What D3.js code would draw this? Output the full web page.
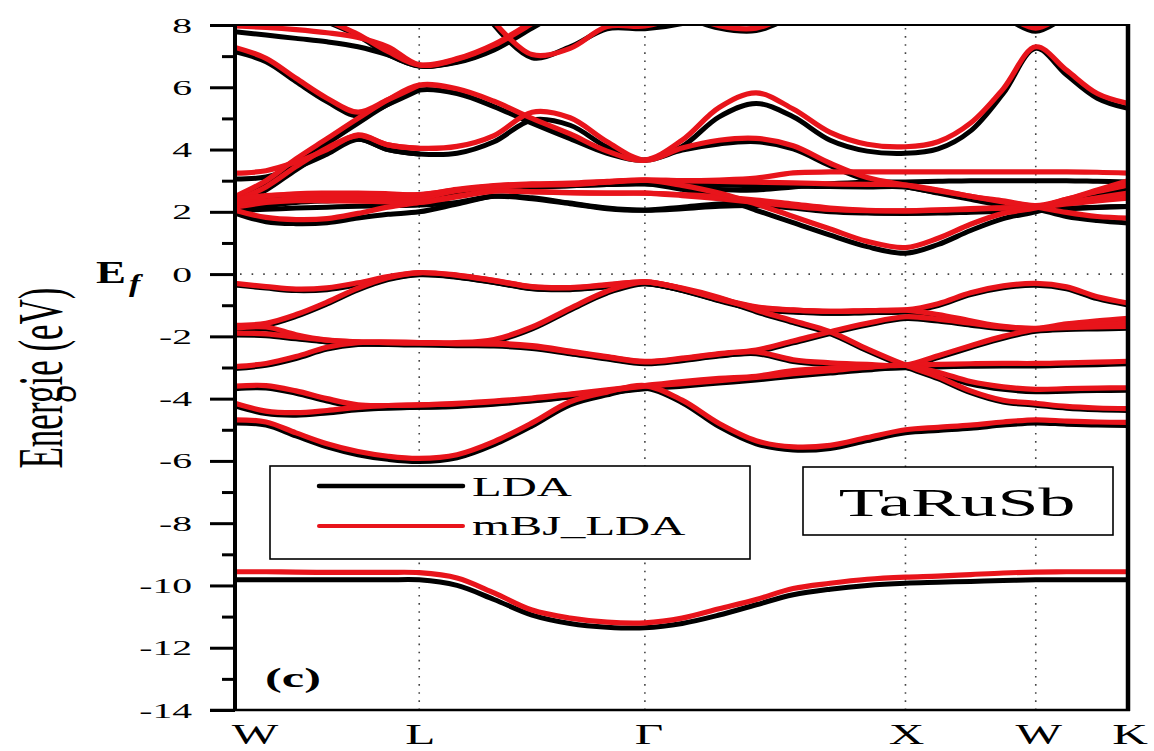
<!DOCTYPE html>
<html><head><meta charset="utf-8">
<script src="https://cdn.jsdelivr.net/npm/d3@7"></script>
<style>
body{margin:0;background:#fff}
svg{display:block}
text{font-family:"Liberation Serif","Times New Roman",serif;fill:#000}
</style>
</head><body>
<svg id="c" width="1154" height="751" font-family="Liberation Serif"></svg>
<script>
const _ = null;
// k-path (units of 2π/a) and sampled k grid
const kGrid = [0,0.119,0.234,0.353,0.472,0.587,0.707, 0.852,0.994,1.140,1.286,1.428,1.573,
  1.716,1.858,2.000,2.142,2.284,2.426,2.573, 2.698,2.823,2.948,3.073, 3.191,3.309,3.427];
const kTicks = [0, 0.707, 1.573, 2.573, 3.073, 3.427];
const kLabels = ["W","L","Γ","X","W","K"];
const yMajor = [8,6,4,2,0,-2,-4,-6,-8,-10,-12,-14];
const yMinor = [7,5,3,1,-1,-3,-5,-7,-9,-11,-13];
const yLabels = ["8","6","4","2","0","-2","-4","-6","-8","-10","-12","-14"];
const seriesNames = ["LDA","mBJ_LDA"];

// ---- mBJ_LDA (red) ----
const mbjDeep = [
 [-9.56,-9.56,-9.57,-9.58,-9.58,-9.58,-9.59, -9.76,-10.24,-10.79,-11.05,-11.18,-11.2, -11.05,-10.75,-10.45,-10.1,-9.93,-9.8,-9.73, -9.7,-9.65,-9.6,-9.57, -9.56,-9.56,-9.56]
];
const mbjValence = [
 [-0.30,-0.40,-0.48,-0.44,-0.28,-0.08,0.05, -0.03,-0.20,-0.40,-0.43,-0.34,-0.25, -0.46,-0.78,-1.05,-1.15,-1.20,-1.17,-1.15, -0.95,-0.60,-0.38,-0.30, -0.41,-0.73,-0.93],
 [-1.65,-1.58,-1.30,-0.90,-0.45,-0.12,0.04, -0.04,-0.21,-0.41,-0.44,-0.35,-0.25, -0.45,-0.75,-1.15,-1.50,-1.85,-2.40,-2.92, -3.30,-3.75,-4.05,-4.15, -4.25,-4.30,-4.32],
 [-1.74,-1.70,-1.95,-2.12,-2.18,-2.20,-2.20, -2.20,-2.10,-1.70,-1.10,-0.55,-0.25, -0.47,-0.80,-1.07,-1.16,-1.20,-1.18,-1.16, -1.30,-1.50,-1.68,-1.74, -1.60,-1.50,-1.42],
 [-1.90,-1.92,-2.02,-2.12,-2.18,-2.20,-2.22, -2.22,-2.22,-2.30,-2.47,-2.65,-2.80, -2.70,-2.55,-2.44,-2.15,-1.85,-1.58,-1.37, -1.45,-1.58,-1.70,-1.75, -1.68,-1.62,-1.58],
 [-2.97,-2.87,-2.65,-2.35,-2.20,-2.18,-2.20, -2.24,-2.25,-2.33,-2.50,-2.67,-2.82, -2.72,-2.57,-2.50,-2.75,-2.85,-2.90,-2.92, -2.62,-2.30,-2.00,-1.78, -1.72,-1.70,-1.68],
 [-3.60,-3.58,-3.75,-4.00,-4.20,-4.22,-4.20, -4.15,-4.08,-3.98,-3.85,-3.72,-3.58, -3.45,-3.35,-3.28,-3.10,-3.02,-2.97,-2.92, -2.90,-2.88,-2.87,-2.87, -2.85,-2.83,-2.80],
 [-4.15,-4.40,-4.45,-4.38,-4.28,-4.22,-4.20, -4.17,-4.10,-4.00,-3.87,-3.74,-3.60, -3.52,-3.42,-3.32,-3.20,-3.10,-3.00,-2.93, -3.15,-3.45,-3.62,-3.70, -3.68,-3.66,-3.65],
 [-4.68,-4.75,-5.10,-5.45,-5.70,-5.85,-5.92, -5.80,-5.38,-4.78,-4.10,-3.79,-3.58, -4.05,-4.80,-5.35,-5.55,-5.50,-5.25,-5.00, -4.92,-4.85,-4.75,-4.68, -4.72,-4.75,-4.76]
];
const mbjConduction = [
 [7.97,7.92,7.85,7.75,7.60,7.30,6.72, 6.90,7.35,8.05,8.80,_,_, _,_,_,_,_,_,_, _,_,_,_, _,_,_],
 [_,_,8.60,8.15,7.70,7.15,6.72, 6.92,7.38,8.10,8.85,_,_, _,_,_,_,_,_,_, _,_,_,_, _,_,_],
 [7.28,6.93,6.29,5.65,5.20,5.60,6.07, _,_,_,_,_,_, _,_,_,_,_,_,_, _,_,_,_, _,_,_],
 [2.49,3.00,3.70,4.35,5.00,5.60,6.07, 5.95,5.55,5.00,4.50,3.95,3.66, 4.30,5.35,5.82,5.30,4.55,4.17,4.09, 4.25,4.85,5.95,7.30, 6.55,5.80,5.48],
 [2.35,2.80,3.45,4.05,4.45,4.15,4.04, _,_,_,_,_,_, _,_,_,_,_,_,_, _,_,_,_, _,_,_],
 [3.24,3.32,3.60,4.00,4.47,4.15,4.04, 4.10,4.45,5.20,5.02,4.25,3.66, 4.05,4.30,4.36,4.12,3.56,3.10,2.86, 2.68,2.50,2.32,2.16, 1.98,1.85,1.80],
 [_,_,_,_,_,_,_, _,8.10,7.05,7.25,7.95,7.97, 8.30,_,_,_,_,_,_, _,_,_,_, _,_,_],
 [_,_,_,_,_,_,_, _,_,_,_,_,_, 8.40,7.98,7.90,8.40,_,_,_, _,_,8.40,7.90, 8.40,_,_],
 [2.05,1.82,1.75,1.78,1.95,2.15,2.30, 2.50,2.68,2.65,2.62,2.60,2.60, 2.52,2.42,2.30,2.18,2.08,2.04,2.03, 2.06,2.10,2.13,2.16, 2.30,2.45,2.60],
 [2.15,2.30,2.36,2.35,2.34,2.32,2.30, 2.48,2.66,2.64,2.61,2.60,2.60, 2.55,2.48,2.38,2.25,2.12,2.05,2.03, 2.05,2.08,2.12,2.15, 2.25,2.35,2.44],
 [2.20,2.35,2.42,2.45,2.45,2.45,2.45, 2.68,2.82,2.86,2.88,2.95,3.02, 3.00,3.02,3.08,3.25,3.28,3.28,3.28, 3.28,3.28,3.28,3.28, 3.28,3.27,3.24],
 [2.30,2.50,2.58,2.60,2.60,2.58,2.55, 2.72,2.84,2.90,2.92,2.98,3.02, 3.00,2.98,2.95,2.93,2.90,2.88,2.86, 2.70,2.50,2.35,2.20, 2.40,2.65,2.86],
 [2.40,2.52,2.56,2.58,2.58,2.56,2.55, 2.70,2.83,2.88,2.90,2.96,3.02, 2.85,2.60,2.25,1.85,1.45,1.05,0.85, 1.15,1.60,1.95,2.12, 2.40,2.70,3.00]
];

// ---- LDA (black) ----
const ldaDeep = [
 [-9.82,-9.82,-9.82,-9.82,-9.82,-9.82,-9.82, -10.0,-10.45,-10.95,-11.22,-11.34,-11.36, -11.22,-10.95,-10.62,-10.3,-10.12,-10.0,-9.93, -9.9,-9.87,-9.84,-9.82, -9.82,-9.82,-9.82]
];
const ldaValence = [
 [-0.35,-0.45,-0.53,-0.50,-0.34,-0.14,-0.01, -0.09,-0.26,-0.46,-0.49,-0.40,-0.30, -0.52,-0.84,-1.11,-1.21,-1.26,-1.23,-1.21, -1.01,-0.66,-0.44,-0.36, -0.47,-0.79,-0.99],
 [-1.71,-1.64,-1.36,-0.96,-0.51,-0.18,-0.02, -0.10,-0.27,-0.47,-0.50,-0.41,-0.31, -0.51,-0.81,-1.21,-1.56,-1.91,-2.46,-2.98, -3.36,-3.81,-4.11,-4.21, -4.31,-4.36,-4.38],
 [-1.80,-1.76,-2.01,-2.18,-2.24,-2.26,-2.26, -2.26,-2.16,-1.76,-1.16,-0.61,-0.31, -0.53,-0.86,-1.13,-1.22,-1.26,-1.24,-1.22, -1.36,-1.56,-1.74,-1.80, -1.66,-1.56,-1.48],
 [-1.96,-1.98,-2.08,-2.18,-2.24,-2.26,-2.28, -2.28,-2.28,-2.36,-2.53,-2.71,-2.86, -2.76,-2.61,-2.50,-2.21,-1.91,-1.64,-1.43, -1.51,-1.64,-1.76,-1.81, -1.74,-1.68,-1.64],
 [-3.03,-2.93,-2.71,-2.41,-2.26,-2.24,-2.26, -2.30,-2.31,-2.39,-2.56,-2.73,-2.88, -2.78,-2.63,-2.56,-2.81,-2.91,-2.96,-2.98, -2.68,-2.36,-2.06,-1.84, -1.78,-1.76,-1.74],
 [-3.68,-3.66,-3.83,-4.08,-4.28,-4.30,-4.28, -4.23,-4.16,-4.06,-3.93,-3.80,-3.66, -3.53,-3.43,-3.36,-3.18,-3.10,-3.05,-3.00, -2.98,-2.96,-2.95,-2.95, -2.93,-2.91,-2.88],
 [-4.23,-4.48,-4.53,-4.46,-4.36,-4.30,-4.28, -4.25,-4.18,-4.08,-3.95,-3.82,-3.68, -3.60,-3.50,-3.40,-3.28,-3.18,-3.08,-3.01, -3.23,-3.53,-3.70,-3.78, -3.76,-3.74,-3.73],
 [-4.78,-4.85,-5.20,-5.55,-5.80,-5.95,-6.02, -5.90,-5.48,-4.88,-4.20,-3.88,-3.66, -4.13,-4.90,-5.45,-5.65,-5.60,-5.35,-5.10, -5.02,-4.95,-4.85,-4.78, -4.82,-4.85,-4.86]
];
const ldaConduction = [
 [7.78,7.68,7.57,7.46,7.30,7.04,6.68, 6.80,7.20,7.90,8.60,_,_, _,_,_,_,_,_,_, _,_,_,_, _,_,_],
 [_,_,8.50,8.10,7.65,7.05,6.68, 6.82,7.22,7.95,8.65,_,_, _,_,_,_,_,_,_, _,_,_,_, _,_,_],
 [7.14,6.82,6.18,5.54,5.08,5.45,5.91, _,_,_,_,_,_, _,_,_,_,_,_,_, _,_,_,_, _,_,_],
 [2.38,2.88,3.55,4.20,4.85,5.45,5.91, 5.80,5.38,4.85,4.35,3.88,3.66, 4.10,5.05,5.48,5.05,4.30,3.95,3.88, 4.02,4.60,5.80,7.25, 6.40,5.65,5.32],
 [2.25,2.70,3.35,3.95,4.33,4.00,3.86, _,_,_,_,_,_, _,_,_,_,_,_,_, _,_,_,_, _,_,_],
 [3.05,3.12,3.42,3.85,4.33,4.00,3.86, 3.88,4.25,4.95,4.78,4.08,3.66, 3.98,4.18,4.25,4.02,3.48,3.02,2.80, 2.62,2.45,2.28,2.10, 1.85,1.72,1.64],
 [_,_,_,_,_,_,_, _,8.00,6.95,7.30,7.88,7.88, 8.05,8.40,_,_,_,_,_, _,_,_,_, _,_,_],
 [_,_,_,_,_,_,_, _,_,_,_,_,_, 8.30,7.90,7.82,8.30,_,_,_, _,_,8.30,7.80, 8.30,_,_],
 [1.96,1.68,1.62,1.65,1.80,1.92,2.00, 2.25,2.50,2.45,2.28,2.12,2.05, 2.10,2.18,2.20,2.12,2.00,1.96,1.95, 1.96,1.99,2.02,2.05, 2.10,2.14,2.17],
 [2.05,2.08,2.12,2.15,2.18,2.20,2.22, 2.30,2.50,2.42,2.26,2.10,2.05, 2.15,2.25,2.28,2.20,2.05,1.98,1.96, 1.98,2.02,2.05,2.08, 2.12,2.15,2.17],
 [2.10,2.20,2.30,2.35,2.38,2.40,2.40, 2.55,2.70,2.78,2.84,2.88,2.90, 2.82,2.72,2.70,2.80,2.90,2.95,2.96, 2.98,3.00,3.00,3.00, 3.00,2.98,2.96],
 [2.25,2.38,2.45,2.48,2.50,2.50,2.48, 2.62,2.74,2.80,2.85,2.88,2.90, 2.88,2.86,2.84,2.82,2.81,2.80,2.80, 2.60,2.40,2.20,2.05, 2.30,2.50,2.70],
 [2.30,2.40,2.46,2.48,2.50,2.50,2.48, 2.60,2.72,2.80,2.84,2.88,2.90, 2.72,2.45,2.05,1.65,1.25,0.88,0.67, 0.95,1.40,1.78,2.00, 2.25,2.50,2.70]
];

// ---------------- drawing ----------------
const W = 1154, H = 751;
const P = {left:235, right:1128, top:25, bottom:710};
const SX = 1.8; // horizontal stretch of the original figure's lettering
const RED = "#e8141b";

const x = d3.scaleLinear().domain([0, 3.427]).range([P.left, P.right]);
const y = d3.scaleLinear().domain([-14, 8]).range([P.bottom, P.top]);
const svg = d3.select("#c");
svg.append("rect").attr("width", W).attr("height", H).attr("fill", "#fff");
svg.append("defs").append("clipPath").attr("id", "plotclip")
  .append("rect").attr("x", P.left).attr("y", P.top)
  .attr("width", P.right - P.left).attr("height", P.bottom - P.top);

// dotted reference lines
const grid = svg.append("g").attr("stroke", "#444").attr("stroke-width", 1.6).attr("fill", "none");
kTicks.slice(1, 5).forEach(k => {
  grid.append("line").attr("x1", x(k)).attr("x2", x(k)).attr("y1", P.top + 3).attr("y2", P.bottom)
    .attr("stroke-dasharray", "1.6 6.5");
});
grid.append("line").attr("x1", P.left + 5).attr("x2", P.right).attr("y1", y(0)).attr("y2", y(0))
  .attr("stroke-dasharray", "1.6 10");

// bands
const line = d3.line()
  .defined(d => d[1] !== null)
  .x(d => x(d[0])).y(d => y(d[1]))
  .curve(d3.curveCatmullRom.alpha(0.5));
const bands = svg.append("g").attr("clip-path", "url(#plotclip)");
function drawBands(sets, color, width) {
  sets.forEach(set => set.forEach(vals => {
    bands.append("path")
      .attr("d", line(kGrid.map((k, i) => [k, vals[i]])))
      .attr("fill", "none").attr("stroke", color).attr("stroke-width", width)
      .attr("stroke-linejoin", "round").attr("stroke-linecap", "round");
  }));
}
drawBands([ldaDeep, ldaValence, ldaConduction], "#000", 5);
drawBands([mbjDeep, mbjValence, mbjConduction], RED, 5.2);

// axes ticks
const axMaj = d3.axisLeft(y).tickValues(yMajor).tickSize(25).tickFormat("");
const axMin = d3.axisLeft(y).tickValues(yMinor).tickSize(13).tickFormat("");
[axMaj, axMin].forEach(ax => {
  const g = svg.append("g").attr("transform", `translate(${P.left},0)`).call(ax);
  g.select(".domain").remove();
  g.selectAll(".tick line").attr("stroke", "#000").attr("stroke-width", 3);
});

// frame
const fr = svg.append("g").attr("stroke", "#000");
fr.append("line").attr("x1", 210).attr("x2", P.right).attr("y1", P.top).attr("y2", P.top).attr("stroke-width", 2);
fr.append("line").attr("x1", 210).attr("x2", P.right + 2).attr("y1", P.bottom).attr("y2", P.bottom).attr("stroke-width", 2.5);
fr.append("line").attr("x1", P.left).attr("x2", P.left).attr("y1", P.top - 1).attr("y2", P.bottom + 1).attr("stroke-width", 4);
fr.append("line").attr("x1", P.right).attr("x2", P.right).attr("y1", P.top - 1).attr("y2", P.bottom + 1).attr("stroke-width", 4.5);

// text helper
function stext(str, tx, ty, size, anchor, sx, extra) {
  return svg.append("text")
    .attr("transform", `translate(${tx},${ty}) scale(${sx},1)` + (extra || ""))
    .attr("font-family", "Liberation Serif")
    .attr("text-anchor", anchor).attr("font-size", size).text(str);
}

// y tick labels
yMajor.forEach((v, i) => stext(yLabels[i], 192, y(v) + 7.5, 22, "end", SX));

// x labels
const xLabelPos = [255, x(kTicks[1]) + 1, x(kTicks[2]) + 4, x(kTicks[3]) + 1, x(kTicks[4]) + 3, 1130];
kLabels.forEach((s, i) => stext(s, xLabelPos[i], 744, 29, "middle", 1.7));

// y axis title
stext("Energie (eV)", 62, 378, 35, "middle", SX, " rotate(-90)");
// E_f
stext("E", 96, 283, 31, "start", 1.45).attr("font-weight", "bold");
stext("f", 129, 292, 26, "start", 1.3).attr("font-weight", "bold").attr("font-style", "italic");

// (c)
stext("(c)", 265, 687, 28, "start", SX).attr("font-weight", "bold");

// legend
const lg = svg.append("g");
lg.append("rect").attr("x", 270).attr("y", 466).attr("width", 480).attr("height", 93)
  .attr("fill", "#fff").attr("stroke", "#000").attr("stroke-width", 1.6);
lg.append("line").attr("x1", 319).attr("x2", 463).attr("y1", 486).attr("y2", 486)
  .attr("stroke", "#000").attr("stroke-width", 4.5).attr("stroke-linecap", "round");
lg.append("line").attr("x1", 319).attr("x2", 463).attr("y1", 526).attr("y2", 526)
  .attr("stroke", RED).attr("stroke-width", 4).attr("stroke-linecap", "round");
stext(seriesNames[0], 472, 496, 27, "start", SX);
stext(seriesNames[1], 472, 535, 27, "start", SX);

// compound label box
svg.append("rect").attr("x", 803).attr("y", 467).attr("width", 310).attr("height", 68)
  .attr("fill", "#fff").attr("stroke", "#000").attr("stroke-width", 1.6);
stext("TaRuSb", 957, 516, 41, "middle", SX);
</script>
</body></html>
